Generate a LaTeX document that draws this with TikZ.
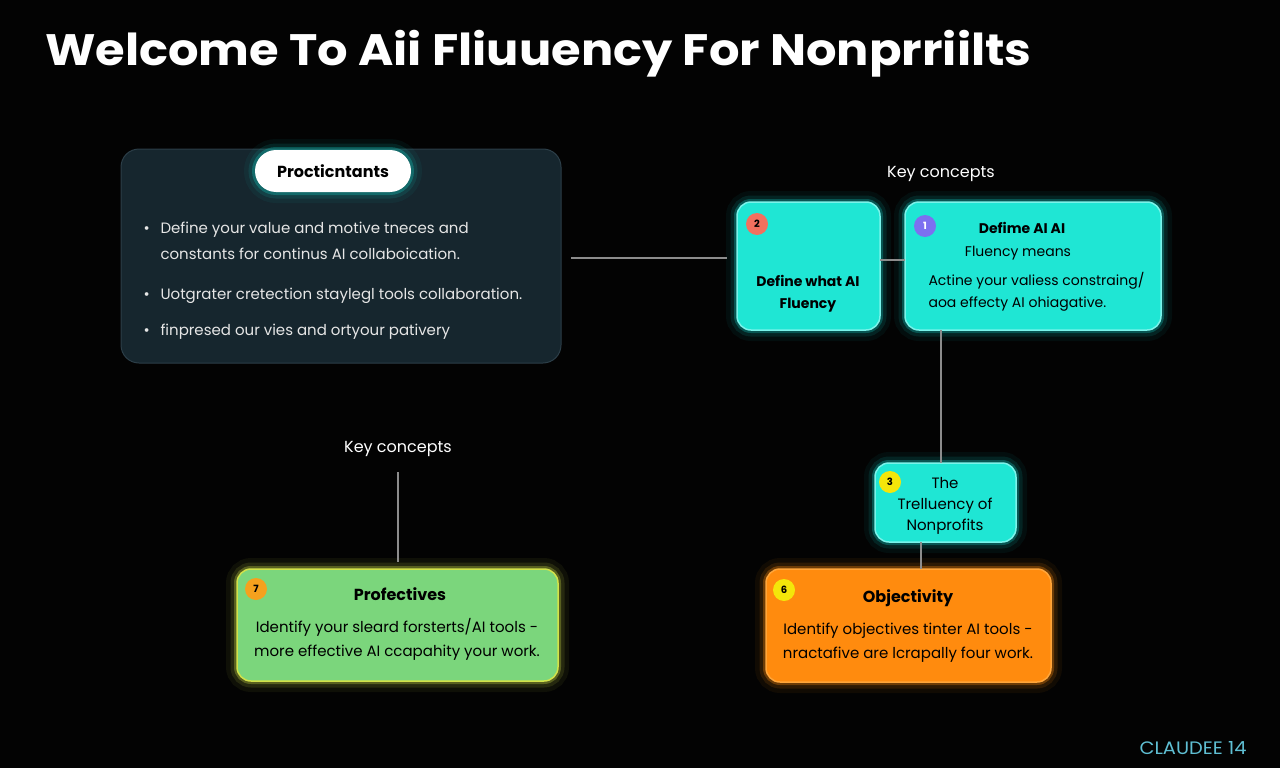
\documentclass[tikz,border=0pt]{standalone}
\usepackage{fontspec}
\setmainfont{Poppins}
\usetikzlibrary{calc}
\definecolor{bg}{HTML}{030303}
\definecolor{panelfill}{HTML}{16262E}
\definecolor{panelline}{HTML}{2C3E48}
\definecolor{tealfill}{HTML}{1FE6D4}
\definecolor{tealline}{HTML}{7AF3EA}
\definecolor{tealglow}{HTML}{12C9C0}
\definecolor{greenfill}{HTML}{7BD67C}
\definecolor{greenline}{HTML}{D2E24A}
\definecolor{orangefill}{HTML}{FF8B0E}
\definecolor{orangeline}{HTML}{FFA53A}
\definecolor{conncol}{HTML}{8C8C8C}
\definecolor{txt}{HTML}{E6E6E6}
\definecolor{claude}{HTML}{5FBFD3}
\definecolor{bsalmon}{HTML}{F2705E}
\definecolor{bpurple}{HTML}{7C70F0}
\definecolor{byellow}{HTML}{F4E60A}
\definecolor{borange}{HTML}{F5A11E}
\tikzset{
  glow/.style={preaction={draw=#1,line width=22pt,opacity=0.06},
               preaction={draw=#1,line width=13pt,opacity=0.12},
               preaction={draw=#1,line width=6pt,opacity=0.3}},
  cardbox/.style={rectangle,rounded corners=14pt,inner sep=0pt,outer sep=0pt,line width=1.5pt},
  tealbox/.style={cardbox,fill=tealfill,draw=tealline,glow=tealglow},
  greenbox/.style={cardbox,fill=greenfill,draw=greenline,glow=greenline},
  orangebox/.style={cardbox,fill=orangefill,draw=orangeline,glow=orangefill},
  badge/.style={circle,minimum size=22pt,inner sep=0pt,fill=#1,text=black,font=\fontsize{10}{10}\selectfont\bfseries},
  conn/.style={draw=conncol,line width=1.5pt},
  body/.style={anchor=base,text=black,font=\fontsize{15}{18}\selectfont},
  bodyb/.style={anchor=base,text=black,font=\fontsize{15}{18}\selectfont\bfseries},
  bullet/.style={anchor=base west,text=txt,font=\fontsize{15}{18}\selectfont},
}
\begin{document}
\begin{tikzpicture}[x=1pt,y=-1pt]
\useasboundingbox (0,0) rectangle (1280,768);
\fill[bg] (0,0) rectangle (1280,768);

% title
\node[anchor=base west,text=white,inner sep=0pt,font=\fontsize{44}{48}\selectfont\bfseries] (title) at (45,66) {\scalebox{1.09}[1]{Welcome To Aii Fliuuency For Nonprriilts}};

% left panel
\node[rectangle,rounded corners=18pt,fill=panelfill,draw=panelline,line width=1pt,minimum width=440pt,minimum height=214pt,inner sep=0pt] (panel) at (341,256) {};
\node[rectangle,rounded corners=21pt,fill=white,minimum width=156pt,minimum height=42pt,inner sep=0pt,glow=tealglow] (pill) at (333,171) {};
\node[anchor=base,text=black,font=\fontsize{16}{18}\selectfont\bfseries] (pilltext) at (333,177) {Procticntants};
\node[bullet] (b1a) at (140,233) {•};
\node[bullet] (t1a) at (157,233) {Define your value and motive tneces and};
\node[bullet] (t1b) at (157,259) {constants for continus AI collaboication.};
\node[bullet] (b2) at (140,299) {•};
\node[bullet] (t2) at (157,299) {Uotgrater cretection staylegl tools collaboration.};
\node[bullet] (b3) at (140,335) {•};
\node[bullet] (t3) at (157,335) {finpresed our vies and ortyour pativery};

% key concepts labels
\node[anchor=base,text=white,font=\fontsize{16}{18}\selectfont] (kc1) at (941,177) {Key concepts};
\node[anchor=base,text=white,font=\fontsize{16}{18}\selectfont] (kc2) at (398,452) {Key concepts};

% box A
\node[tealbox,minimum width=143pt,minimum height=128pt] (boxA) at (808.5,266) {};
\node[badge=bsalmon] (bA) at (757,224) {2};
\node[bodyb,font=\fontsize{14}{18}\selectfont\bfseries] (tA1) at (808,286) {Define what AI};
\node[bodyb,font=\fontsize{14}{18}\selectfont\bfseries] (tA2) at (808,308) {Fluency};

% box B
\node[tealbox,minimum width=256pt,minimum height=128pt] (boxB) at (1033,266) {};
\node[badge=bpurple,text=white] (bB) at (925,226) {1};
\node[bodyb,font=\fontsize{14}{18}\selectfont\bfseries] (tB1) at (1022,233) {Defime AI AI};
\node[body,font=\fontsize{14}{18}\selectfont] (tB2) at (1018,256) {Fluency means};
\node[body,anchor=base west,font=\fontsize{14}{18}\selectfont] (tB3) at (925,285) {Actine your valiess constraing/};
\node[body,anchor=base west,font=\fontsize{14}{18}\selectfont] (tB4) at (925,307) {aoa effecty AI ohiagative.};

% box C
\node[tealbox,minimum width=141pt,minimum height=79pt] (boxC) at (945.5,502.5) {};
\node[badge=byellow] (bC) at (890,482) {3};
\node[body] (tC1) at (945,488) {The};
\node[body] (tC2) at (945,509) {Trelluency of};
\node[body] (tC3) at (945,530) {Nonprofits};

% box D
\node[orangebox,minimum width=285pt,minimum height=113pt] (boxD) at (908.5,625.5) {};
\node[badge=byellow] (bD) at (784,590) {6};
\node[bodyb,font=\fontsize{16}{18}\selectfont\bfseries] (tD1) at (908,602) {Objectivity};
\node[body] (tD2) at (908,634) {Identify objectives tinter AI tools -};
\node[body] (tD3) at (908,658) {nractafive are lcrapally four work.};

% box E
\node[greenbox,minimum width=321pt,minimum height=112pt] (boxE) at (397.5,625) {};
\node[badge=borange] (bE) at (256,589) {7};
\node[bodyb,font=\fontsize{16}{18}\selectfont\bfseries] (tE1) at (400,600) {Profectives};
\node[body] (tE2) at (397,632) {Identify your sleard forsterts/AI tools -};
\node[body] (tE3) at (397,656) {more effective AI ccapahity your work.};

% footer
\node[anchor=base east,text=claude,font=\fontsize{18}{18}\selectfont] (claude) at (1250,754) {\scalebox{1.08}[1]{CLAUDEE 14}};

% connectors
\coordinate (c1s) at (571,258);
\coordinate (c1e) at (727,258);
\draw[conn] (c1s) -- (c1e);
\draw[conn] (boxA.east |- 0,260) -- (boxB.west |- 0,260);
\draw[conn] (boxB.south -| 941,0) -- (boxC.north -| 941,0);
\draw[conn] (boxC.south -| 921,0) -- (boxD.north -| 921,0);
\coordinate (c5s) at (398,472);
\coordinate (c5e) at (398,562);
\draw[conn] (c5s) -- (c5e);
\end{tikzpicture}
\end{document}
